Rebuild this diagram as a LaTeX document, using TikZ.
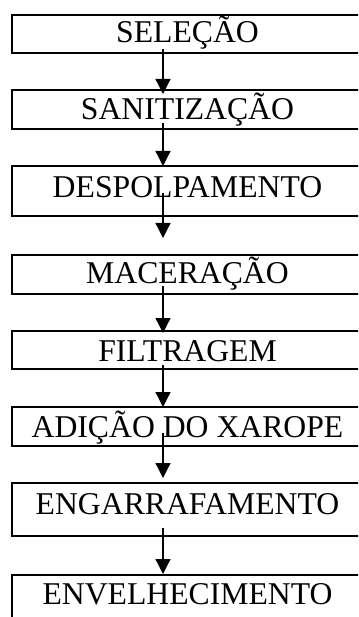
\documentclass[tikz,border=0pt]{standalone}
\usepackage{fontspec}
\setmainfont{Liberation Serif}
\usetikzlibrary{arrows.meta}
\tikzset{
  stepbox/.style={draw=black, line width=2pt, rectangle, anchor=north west,
    minimum width=351pt, inner xsep=0pt, inner ysep=0pt,
    font=\fontsize{31.7}{36}\selectfont},
  flowarrow/.style={line width=1.3pt, -{Triangle[width=15pt,length=15pt]}}
}
\begin{document}
\begin{tikzpicture}[x=1pt,y=-1pt]
\useasboundingbox (0,0) rectangle (358,617);
\clip (0,0) rectangle (358,617);
\node[stepbox, text height=28pt, text depth=10pt] (b1) at (11,14) {SELEÇÃO};
\node[stepbox, text height=30pt, text depth=9pt] (b2) at (11,89) {SANITIZAÇÃO};
\node[stepbox, text height=32pt, text depth=18pt] (b3) at (11,165) {DESPOLPAMENTO};
\node[stepbox, text height=28pt, text depth=11pt] (b4) at (11,254) {MACERAÇÃO};
\node[stepbox, text height=30pt, text depth=8pt] (b5) at (11,330) {FILTRAGEM};
\node[stepbox, text height=30.5pt, text depth=8.5pt] (b6) at (11,406) {ADIÇÃO DO XAROPE};
\node[stepbox, text height=31pt, text depth=22pt] (b7) at (11,482) {ENGARRAFAMENTO};
\node[stepbox, text height=29pt, text depth=40pt] (b8) at (11,574) {ENVELHECIMENTO};
\coordinate (a1s) at (163,49);  \coordinate (a1e) at (163,94);
\coordinate (a2s) at (163,123); \coordinate (a2e) at (163,166);
\coordinate (a3s) at (163,193); \coordinate (a3e) at (163,238);
\coordinate (a4s) at (163,286); \coordinate (a4e) at (163,333);
\coordinate (a5s) at (163,365); \coordinate (a5e) at (163,407);
\coordinate (a6s) at (163,433); \coordinate (a6e) at (163,478);
\coordinate (a7s) at (163,528); \coordinate (a7e) at (163,574);
\draw[flowarrow] (a1s) -- (a1e);
\draw[flowarrow] (a2s) -- (a2e);
\draw[flowarrow] (a3s) -- (a3e);
\draw[flowarrow] (a4s) -- (a4e);
\draw[flowarrow] (a5s) -- (a5e);
\draw[flowarrow] (a6s) -- (a6e);
\draw[flowarrow] (a7s) -- (a7e);
\end{tikzpicture}
\end{document}
